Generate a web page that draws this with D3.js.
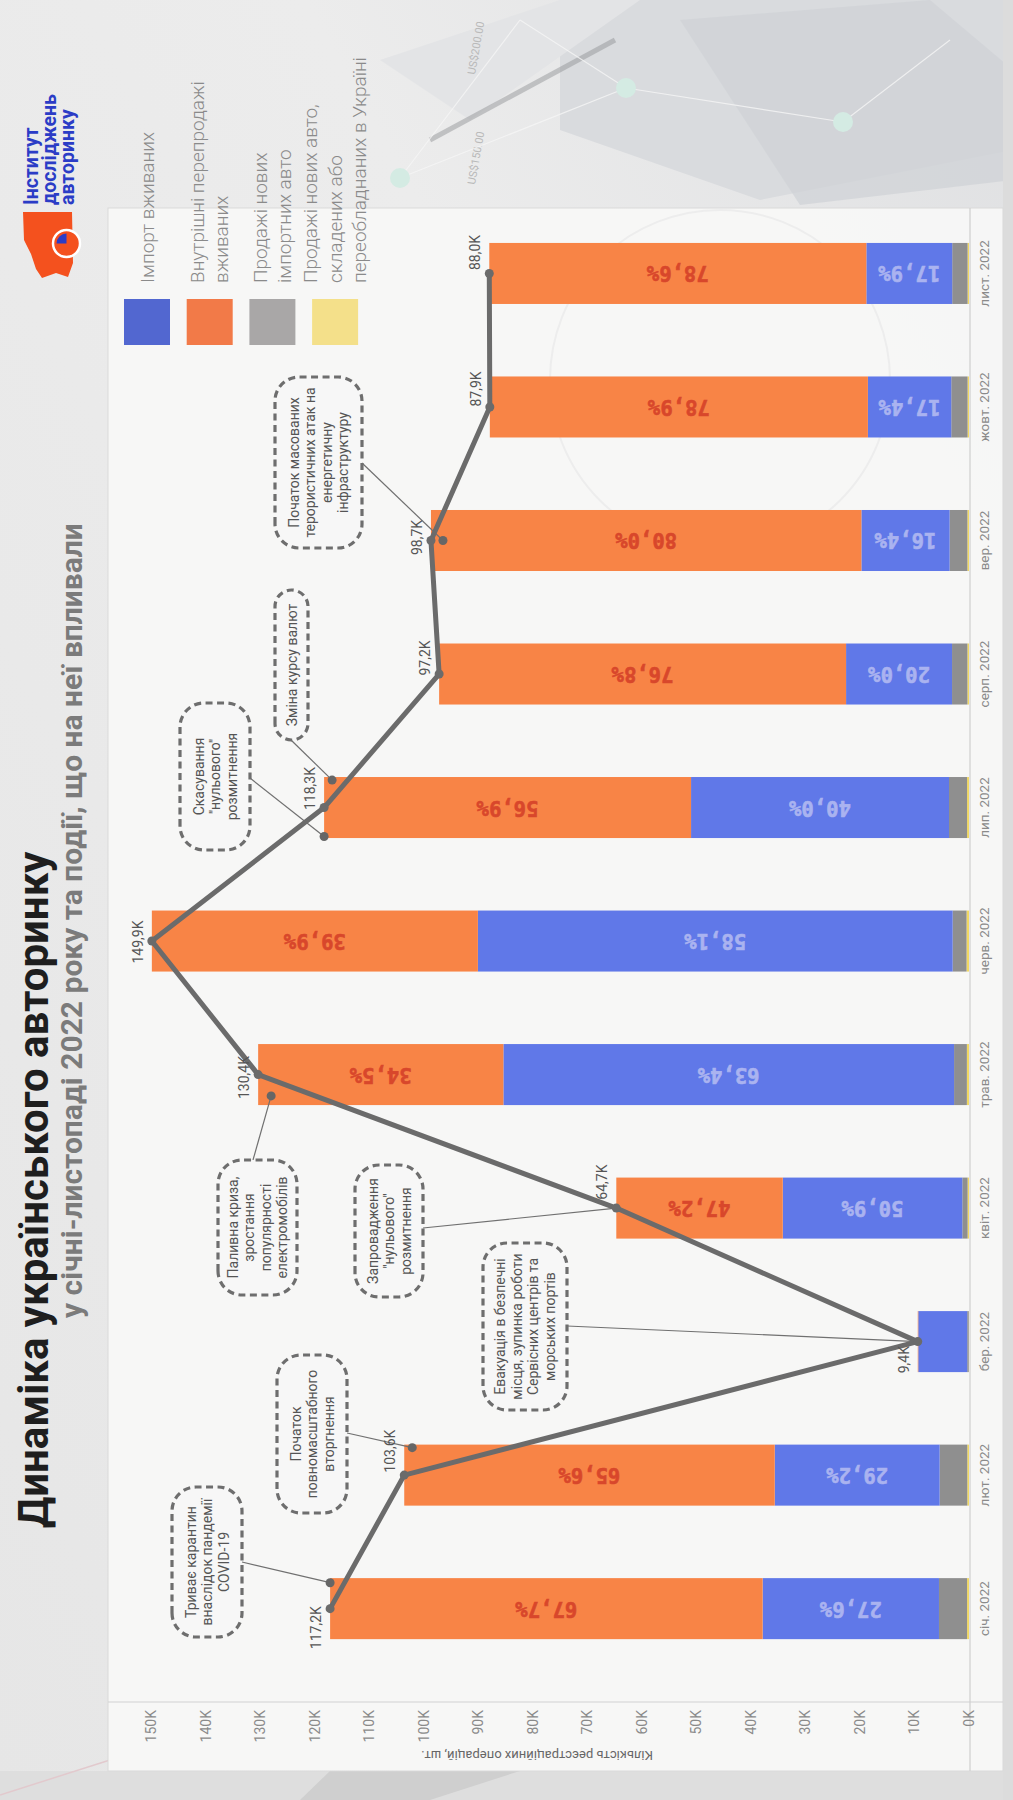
<!DOCTYPE html>
<html>
<head>
<meta charset="utf-8">
<script src="https://cdn.jsdelivr.net/npm/d3@7"></script>
<style>
  html, body { margin: 0; padding: 0; background: #ebebeb; }
  svg { display: block; font-family: Roboto, "Noto Sans", sans-serif; }
</style>
</head>
<body>
<svg id="chart" width="1013" height="1800"></svg>
<script>
// ---- data -------------------------------------------------------------
const months = ["січ. 2022", "лют. 2022", "бер. 2022", "квіт. 2022", "трав. 2022", "черв. 2022",
                "лип. 2022", "серп. 2022", "вер. 2022", "жовт. 2022", "лист. 2022"];
// registration operations per month, thousands
const totalK = [117.2, 103.6, 9.4, 64.7, 130.4, 149.9, 118.3, 97.2, 98.7, 87.9, 88.0];
// shares of each market segment, %
const importUsed     = [27.6, 29.2, 95.5, 50.9, 63.4, 58.1, 40.0, 20.0, 16.4, 17.4, 17.9];
const domesticResale = [67.7, 65.6, 1.0, 47.2, 34.5, 39.9, 56.9, 76.8, 80.0, 78.9, 78.6];
const newImported    = [4.4, 4.9, 3.0, 1.5, 1.8, 1.7, 2.8, 2.9, 3.3, 3.4, 3.2];
const newLocal       = [0.3, 0.3, 0.5, 0.4, 0.3, 0.3, 0.3, 0.3, 0.3, 0.3, 0.3];
const yTicks = [0, 10, 20, 30, 40, 50, 60, 70, 80, 90, 100, 110, 120, 130, 140, 150];

const seriesKeys = ["importUsed", "domesticResale", "newImported", "newLocal"];
const seriesLabels = [
  ["Імпорт вживаних"],
  ["Внутрішні перепродажі", "вживаних"],
  ["Продажі нових", "імпортних авто"],
  ["Продажі нових авто,", "складених або", "переобладнаних в Україні"]
];

const events = [
  { month: "січ. 2022",  lines: ["Триває карантин", "внаслідок пандемії", "COVID-19"] },
  { month: "лют. 2022",  lines: ["Початок", "повномасштабного", "вторгнення"] },
  { month: "бер. 2022",  lines: ["Евакуація в безпечні", "місця, зупинка роботи", "Сервісних центрів та", "морських портів"] },
  { month: "квіт. 2022", lines: ["Запровадження", "\"нульового\"", "розмитнення"] },
  { month: "трав. 2022", lines: ["Паливна криза,", "зростання", "популярності", "електромобілів"] },
  { month: "лип. 2022",  lines: ["Скасування", "\"нульового\"", "розмитнення"] },
  { month: "лип. 2022",  lines: ["Зміна курсу валют"] },
  { month: "вер. 2022",  lines: ["Початок масованих", "терористичних атак на", "енергетичну", "інфраструктуру"] }
];

// ---- layout & style ---------------------------------------------------
const W = 1013, H = 1800;
const colors = {
  importUsed: "#6078e8", domesticResale: "#f88446", newImported: "#8f8f8f", newLocal: "#f1d863"
};
const legendColors = ["#5267d0", "#f27a48", "#a9a7a7", "#f4e08a"];
// horizontal nudge of each total label along the month band (px)
const totalLabelShift = [-19, 24, -18, 26, -3, -1, 19, 16, 3, 18, 21];
// callout boxes in the chart's own (landscape) frame; "from" is where the leader leaves the box,
// "at" places the leader's end relative to the band centre (fraction of half band) and bar top (px inset)
const calloutLayout = [
  { x: 163,  y: 172, w: 150, h: 70, from: [238, 242],  at: [0.85, 0] },
  { x: 287,  y: 277, w: 158, h: 70, from: [367, 347],  at: [0.9, 8] },
  { x: 390,  y: 483, w: 167, h: 84, from: [474, 567],  at: null },
  { x: 503,  y: 355, w: 132, h: 68, from: [572, 423],  at: null },
  { x: 505,  y: 218, w: 135, h: 79, from: [640, 253],  at: [-0.7, 13] },
  { x: 950,  y: 180, w: 147, h: 70, from: [1022, 250], at: [-0.95, 0] },
  { x: 1060, y: 275, w: 150, h: 33, from: [1060, 291], at: [0.9, 8] },
  { x: 1252, y: 275, w: 171, h: 87, from: [1337, 362], at: [0, 12] }
];

const locale = d3.formatLocale({ decimal: ",", thousands: " ", grouping: [3], currency: ["", ""] });
const f1 = locale.format(".1f");

const svg = d3.select("#chart");

// ---- backdrop ---------------------------------------------------------
const bg = svg.append("g");
const grad = svg.append("defs").append("linearGradient")
  .attr("id", "bgGrad").attr("x1", "1").attr("y1", "0").attr("x2", "0").attr("y2", "1");
grad.append("stop").attr("offset", "0").attr("stop-color", "#dfe0e2");
grad.append("stop").attr("offset", "0.35").attr("stop-color", "#ececec");
grad.append("stop").attr("offset", "1").attr("stop-color", "#e6e6e6");
bg.append("rect").attr("width", W).attr("height", H).attr("fill", "url(#bgGrad)");
bg.append("polygon").attr("points", "560,0 1013,0 1013,150 760,200 560,130").attr("fill", "#d9dbde");
bg.append("polygon").attr("points", "680,20 930,0 1013,70 1013,180 800,205").attr("fill", "#cfd2d6").attr("opacity", 0.7);
bg.append("polygon").attr("points", "380,60 560,0 640,0 470,120").attr("fill", "#e3e4e6");
bg.append("line").attr("x1", 430).attr("y1", 140).attr("x2", 615).attr("y2", 40)
  .attr("stroke", "#8d8f92").attr("stroke-width", 5).attr("opacity", 0.45);
[[475, 75, "US$200.00"], [475, 185, "US$150.00"]].forEach(([tx, ty, s]) => {
  bg.append("text").attr("x", tx).attr("y", ty).attr("transform", `rotate(-80,${tx},${ty})`)
    .attr("font-size", 11).attr("fill", "#b9b9b9").text(s);
});
const nodes = [[626, 88], [843, 122], [400, 178], [950, 40], [520, 20]];
[[0, 1], [0, 2], [1, 3], [0, 4], [2, 4]].forEach(([a, b]) => {
  bg.append("line").attr("x1", nodes[a][0]).attr("y1", nodes[a][1])
    .attr("x2", nodes[b][0]).attr("y2", nodes[b][1])
    .attr("stroke", "#f6f6f6").attr("stroke-width", 1.2).attr("opacity", 0.8);
});
nodes.slice(0, 3).forEach(([cx, cy]) => {
  bg.append("circle").attr("cx", cx).attr("cy", cy).attr("r", 10).attr("fill", "#d4ebe3");
});
bg.append("polygon").attr("points", "0,1771 1013,1771 1013,1800 0,1800").attr("fill", "#dedede");
bg.append("polygon").attr("points", "330,1771 520,1771 430,1800 300,1800").attr("fill", "#cfcfcf");
bg.append("line").attr("x1", 0).attr("y1", 1795).attr("x2", 110).attr("y2", 1760)
  .attr("stroke", "#e2c9cd").attr("stroke-width", 1.5);
bg.append("rect").attr("x", 1003).attr("y", 0).attr("width", 10).attr("height", H).attr("fill", "#dcdcdc");

// chart panel
svg.append("rect").attr("x", 108).attr("y", 208).attr("width", 895).attr("height", 1563)
  .attr("fill", "#f8f8f7").attr("opacity", 0.95).attr("stroke", "#d9d9d9");
svg.append("circle").attr("cx", 720).attr("cy", 380).attr("r", 170)
  .attr("fill", "none").attr("stroke", "#ededed").attr("stroke-width", 2);

// ---- chart, laid out landscape and turned a quarter turn -------------
const g = svg.append("g").attr("transform", `translate(0,${H}) rotate(-90)`);

const x = d3.scaleBand().domain(months).range([124.6, 1593.3])
  .paddingInner(0.543).paddingOuter(0.2715);
const y = d3.scaleLinear().domain([0, 150]).range([969, 151.3]);
const bw = x.bandwidth();
const cx = m => x(m) + bw / 2;

// axes
g.append("line").attr("x1", 98).attr("x2", 98).attr("y1", 108).attr("y2", 1003)
  .attr("stroke", "#d2d2d2").attr("stroke-width", 1.2);
g.append("line").attr("x1", 29).attr("x2", 1592).attr("y1", 970).attr("y2", 970)
  .attr("stroke", "#cfcfcf").attr("stroke-width", 1.2);

const yAxis = g.append("g").attr("transform", "translate(98,0)")
  .call(d3.axisLeft(y).tickValues(yTicks).tickSize(0).tickPadding(8).tickFormat(d => d + "K"));
yAxis.select(".domain").remove();
yAxis.selectAll("text").attr("font-size", 14).attr("fill", "#8a8a8a")
  .attr("font-family", "Roboto, sans-serif");

const xAxis = g.append("g").attr("transform", "translate(0,970)")
  .call(d3.axisBottom(x).tickSize(0).tickPadding(9));
xAxis.select(".domain").remove();
xAxis.selectAll("text").attr("font-size", 13.5).attr("fill", "#8a8a8a")
  .attr("font-family", "Roboto, sans-serif");

g.append("text").attr("transform", "translate(45,537) rotate(-90)")
  .attr("text-anchor", "middle").attr("dominant-baseline", "central")
  .attr("font-size", 13).attr("fill", "#666")
  .text("Кількість реєстраційних операцій, шт.");

// stacked bars
const rows = months.map((m, i) => ({
  month: m, total: totalK[i],
  newLocal: totalK[i] * newLocal[i] / 100,
  newImported: totalK[i] * newImported[i] / 100,
  importUsed: totalK[i] * importUsed[i] / 100,
  domesticResale: totalK[i] * domesticResale[i] / 100,
  share: { importUsed: importUsed[i], domesticResale: domesticResale[i] }
}));
const stack = d3.stack().keys(["newLocal", "newImported", "importUsed", "domesticResale"]);
const layers = stack(rows);

g.append("g").selectAll("g").data(layers).join("g")
  .attr("fill", d => colors[d.key])
  .selectAll("rect").data(d => d).join("rect")
  .attr("x", d => x(d.data.month)).attr("width", bw)
  .attr("y", d => y(d[1])).attr("height", d => y(d[0]) - y(d[1]));

// share labels inside the two main segments
const labelColor = { importUsed: "#aab3f0", domesticResale: "#d8472b" };
layers.filter(l => l.key === "importUsed" || l.key === "domesticResale").forEach(layer => {
  g.append("g").selectAll("text")
    .data(layer.filter(d => y(d[0]) - y(d[1]) > 60)).join("text")
    .attr("transform", d => `translate(${cx(d.data.month)},${(y(d[0]) + y(d[1])) / 2}) rotate(-90)`)
    .attr("text-anchor", "middle").attr("dominant-baseline", "central")
    .attr("font-family", "'DejaVu Sans Mono', monospace").attr("font-weight", "bold")
    .attr("font-size", 20.5).attr("fill", labelColor[layer.key])
    .attr("stroke", labelColor[layer.key]).attr("stroke-width", 0.6)
    .text(d => f1(d.data.share[layer.key]) + "%");
});

// callouts: leaders and end dots
const callG = g.append("g");
events.forEach((ev, i) => {
  const L = calloutLayout[i];
  const k = months.indexOf(ev.month);
  let ex, ey, dot = true;
  if (L.at) {
    ex = cx(ev.month) + L.at[0] * bw / 2;
    ey = y(totalK[k]) + L.at[1];
  } else {
    ex = cx(ev.month); ey = y(totalK[k]); dot = false;
  }
  callG.append("line").attr("x1", L.from[0]).attr("y1", L.from[1]).attr("x2", ex).attr("y2", ey)
    .attr("stroke", "#707070").attr("stroke-width", 1.2);
  if (dot) callG.append("circle").attr("cx", ex).attr("cy", ey).attr("r", 4.5).attr("fill", "#666");
});

// monthly total line
g.append("path").datum(rows)
  .attr("fill", "none").attr("stroke", "#6b6b6b").attr("stroke-width", 5)
  .attr("stroke-linejoin", "round").attr("stroke-linecap", "round")
  .attr("d", d3.line().x(d => cx(d.month)).y(d => y(d.total)));
g.append("g").selectAll("circle").data(rows).join("circle")
  .attr("cx", d => cx(d.month)).attr("cy", d => y(d.total)).attr("r", 4.5).attr("fill", "#6b6b6b");

g.append("g").selectAll("text").data(rows).join("text")
  .attr("x", (d, i) => cx(d.month) + totalLabelShift[i])
  .attr("y", d => y(d.total) - 9)
  .attr("text-anchor", "middle").attr("font-size", 14).attr("fill", "#555")
  .text(d => f1(d.total) + "K");

// callout boxes
events.forEach((ev, i) => {
  const L = calloutLayout[i];
  const box = callG.append("g");
  box.append("rect").attr("x", L.x).attr("y", L.y).attr("width", L.w).attr("height", L.h)
    .attr("rx", Math.min(24, L.h / 2)).attr("ry", Math.min(24, L.h / 2))
    .attr("fill", "#f7f7f7").attr("fill-opacity", 0.85)
    .attr("stroke", "#6e6e6e").attr("stroke-width", 3.2).attr("stroke-dasharray", "7 4.5");
  const lh = 16.5, n = ev.lines.length;
  const cy0 = L.y + L.h / 2 - (n - 1) * lh / 2;
  box.selectAll("text").data(ev.lines).join("text")
    .attr("x", L.x + L.w / 2).attr("y", (d, j) => cy0 + j * lh)
    .attr("text-anchor", "middle").attr("dominant-baseline", "central")
    .attr("font-size", 14).attr("fill", "#555").text(d => d);
});

// legend
const leg = g.append("g");
seriesKeys.forEach((key, i) => {
  const sy = 124 + i * 62.7;
  leg.append("rect").attr("x", 1455).attr("y", sy).attr("width", 46).attr("height", 46)
    .attr("fill", legendColors[i]);
  const lines = seriesLabels[i], lh = 24.5;
  const c = sy + 23;
  lines.forEach((t, j) => {
    leg.append("text").attr("x", 1517)
      .attr("y", c - (lines.length - 1) * lh / 2 + j * lh)
      .attr("dominant-baseline", "central")
      .attr("font-size", 19).attr("font-weight", 300).attr("fill", "#8a8a8a").text(t);
  });
});

// logo
const logo = g.append("g");
logo.append("path")
  .attr("d", "M1588,23 L1588,72 L1537,73 L1523,68 L1527,56 L1522,42 L1531,36 L1546,31 L1560,24 Z")
  .attr("fill", "#f4511e");
logo.append("circle").attr("cx", 1556.5).attr("cy", 66.5).attr("r", 13.5)
  .attr("fill", "#f4511e").attr("stroke", "#fff").attr("stroke-width", 2.5);
logo.append("path").attr("transform", "translate(1556.5,66.5)")
  .attr("d", d3.arc()({ innerRadius: 0, outerRadius: 10, startAngle: 0, endAngle: Math.PI / 2 }))
  .attr("fill", "#2b3cc6");
["Інститут", "досліджень", "авторинку"].forEach((t, j) => {
  logo.append("text").attr("x", 1595).attr("y", 38 + j * 18)
    .attr("font-size", 19.5).attr("font-weight", "bold").attr("fill", "#2b3cc6").text(t);
});

// titles
g.append("text").attr("x", 272).attr("y", 48)
  .attr("font-size", 42).attr("font-weight", "bold").attr("fill", "#1e1e1e")
  .text("Динаміка українського авторинку");
g.append("text").attr("x", 482).attr("y", 82)
  .attr("font-size", 30).attr("font-weight", "bold").attr("fill", "#7b7b7b")
  .text("у січні-листопаді 2022 року та події, що на неї впливали");
</script>
</body>
</html>
